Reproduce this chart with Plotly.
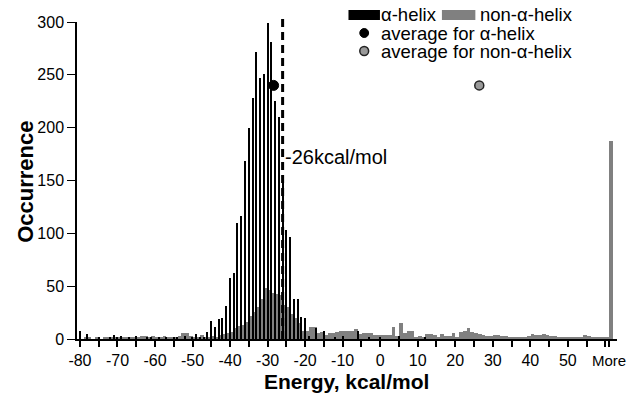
import plotly.graph_objects as go

# ---------------- data ----------------
bin_labels = [str(e) for e in range(-80, 61)] + ["More"]

alpha_counts = (
    [8, 0, 5, 0, 0, 2, 0, 0, 1, 4]            # -80..-71
    + [2, 3, 0, 2, 0, 3, 0, 0, 2, 1]          # -70..-61
    + [0, 2, 0, 2, 0, 1, 2, 0, 3, 0]          # -60..-51
    + [2, 5, 2, 1, 7, 17, 11, 19, 20, 31]     # -50..-41
    + [58, 62, 110, 116, 168, 200, 228, 272, 247, 251]   # -40..-31
    + [299, 281, 225, 210, 150, 103, 97, 38, 38, 21]     # -30..-21
    + [20, 3, 0, 10, 0, 8, 0, 0, 2, 0]        # -20..-11
    + [3, 0, 0, 0, 8, 0, 0, 2, 0, 0]          # -10..-1
    + [2, 0, 0, 0, 0, 3, 0, 0, 0, 0]          # 0..9
    + [0, 0, 1, 0, 0, 0, 0, 0, 0, 0]          # 10..19
    + [0, 0, 0, 0, 0, 0, 0, 0, 0, 0]          # 20..29
    + [0, 0, 0, 0, 0, 0, 0, 0, 0, 0]          # 30..39
    + [0, 0, 0, 0, 0, 0, 0, 0, 0, 0]          # 40..49
    + [0, 0, 0, 0, 0, 0, 0, 0, 0, 0]          # 50..59
    + [0]                                     # 60
    + [0]                                     # More
)

non_alpha_counts = (
    [0, 2, 1, 0, 1, 0, 1, 2, 1, 1]            # -80..-71
    + [2, 1, 2, 1, 2, 1, 3, 3, 2, 3]          # -70..-61
    + [2, 2, 3, 2, 2, 1, 3, 6, 6, 3]          # -60..-51
    + [2, 2, 4, 1, 2, 3, 2, 4, 5, 6]          # -50..-41
    + [7, 10, 12, 13, 16, 22, 26, 30, 38, 48]  # -40..-31
    + [46, 44, 43, 42, 32, 30, 24, 20, 15, 8]  # -30..-21
    + [8, 11, 11, 6, 7, 4, 6, 6, 7, 8]        # -20..-11
    + [8, 8, 8, 9, 5, 6, 6, 6, 4, 4]          # -10..-1
    + [4, 4, 4, 11, 3, 15, 6, 8, 8, 2]        # 0..9
    + [3, 2, 5, 5, 4, 2, 5, 3, 3, 6]          # 10..19
    + [2, 7, 8, 10, 7, 6, 5, 4, 3, 3]         # 20..29
    + [4, 4, 3, 3, 2, 2, 2, 2, 2, 3]          # 30..39
    + [5, 4, 4, 5, 4, 3, 3, 2, 2, 2]          # 40..49
    + [2, 1, 2, 2, 4, 3, 2, 2, 2, 2]          # 50..59
    + [1]                                     # 60
    + [187]                                   # More
)

x_tick_labels = ["-80", "-70", "-60", "-50", "-40", "-30", "-20", "-10",
                 "0", "10", "20", "30", "40", "50", "More"]
y_tick_values = [0, 50, 100, 150, 200, 250, 300]

threshold_energy = -26
threshold_label = "-26kcal/mol"
threshold_label_y = 172
avg_alpha_energy = -28.4
avg_non_alpha_energy = 26.4
avg_y = 240

# ---------------- helpers ----------------
first_bin = int(bin_labels[0])
positions = list(range(len(bin_labels)))


def pos_of(energy):
    return energy - first_bin


# ticks every 5 bins, labels every 10
tick_vals = [p for p in positions if p % 5 == 0 and bin_labels[p] != "More"]
tick_text = [bin_labels[p] if bin_labels[p] in x_tick_labels else "" for p in tick_vals]
more_pos = bin_labels.index("More")
tick_vals.append(more_pos)
tick_text.append("<span style='font-size:15px'>More</span>")

FONT = "Liberation Sans, Arial, sans-serif"
GRAY = "#808080"

W, H = 636, 399
PL, PW, PT, PH = 77, 549, 22, 317   # plot area in pixels

fig = go.Figure()

fig.add_trace(go.Bar(
    x=positions, y=non_alpha_counts, width=1.0, offset=0.05,
    marker=dict(color=GRAY, line=dict(width=0)), name="non-α-helix",
    showlegend=False,
))
fig.add_trace(go.Bar(
    x=positions, y=alpha_counts, width=0.32, offset=-0.16,
    marker=dict(color="black", line=dict(width=0)), name="α-helix",
    showlegend=False,
))
fig.add_trace(go.Scatter(
    x=[pos_of(avg_alpha_energy)], y=[avg_y], mode="markers",
    marker=dict(color="black", size=10, line=dict(color="black", width=1)),
    name="average for α-helix", showlegend=False,
))
fig.add_trace(go.Scatter(
    x=[pos_of(avg_non_alpha_energy)], y=[avg_y], mode="markers",
    marker=dict(color="#999999", size=9, line=dict(color="#222222", width=1.5)),
    name="average for non-α-helix", showlegend=False,
))

# threshold dashed line
fig.add_shape(type="line", xref="x", yref="paper",
              x0=pos_of(threshold_energy), x1=pos_of(threshold_energy), y0=0, y1=1.01,
              line=dict(color="black", width=3, dash="8px,5px"))
fig.add_annotation(x=pos_of(threshold_energy), y=threshold_label_y, xref="x", yref="y",
                   text=threshold_label, showarrow=False, xanchor="left", xshift=0,
                   font=dict(family=FONT, size=20, color="black"))


# ---------------- manual legend ----------------
def px(xp):
    return (xp - PL) / PW


def py(yp):
    return (PT + PH - yp) / PH


rows = [15, 33, 51]
key_c = 369
fig.add_shape(type="rect", xref="paper", yref="paper",
              x0=px(key_c - 16), x1=px(key_c + 16), y0=py(rows[0] + 5), y1=py(rows[0] - 5),
              fillcolor="black", line=dict(width=0))
fig.add_shape(type="rect", xref="paper", yref="paper",
              x0=px(448), x1=px(482), y0=py(rows[0] + 5), y1=py(rows[0] - 5),
              fillcolor=GRAY, line=dict(width=0))
fig.add_shape(type="circle", xref="paper", yref="paper",
              x0=px(key_c - 4.5), x1=px(key_c + 4.5), y0=py(rows[1] + 4.5), y1=py(rows[1] - 4.5),
              fillcolor="black", line=dict(color="black", width=1))
fig.add_shape(type="circle", xref="paper", yref="paper",
              x0=px(key_c - 4.5), x1=px(key_c + 4.5), y0=py(rows[2] + 4.5), y1=py(rows[2] - 4.5),
              fillcolor="#999999", line=dict(color="#222222", width=1.5))

legend_items = [("α-helix", 385, rows[0]), ("non-α-helix", 486, rows[0]),
                ("average for α-helix", 385, rows[1]),
                ("average for non-α-helix", 385, rows[2])]
for txt, xp_, yp_ in legend_items:
    fig.add_annotation(x=px(xp_), y=py(yp_), xref="paper", yref="paper", text=txt,
                       showarrow=False, xanchor="left", yanchor="middle",
                       borderpad=0,
                       font=dict(family=FONT, size=18.5, color="black"))

# axis titles
fig.add_annotation(x=px(351), y=py(381), xref="paper", yref="paper",
                   text="<b>Energy, kcal/mol</b>", showarrow=False,
                   xanchor="center", yanchor="middle",
                   font=dict(family=FONT, size=21, color="black"))
fig.add_annotation(x=px(24), y=py(182), xref="paper", yref="paper",
                   text="<b>Occurrence</b>", showarrow=False, textangle=-90,
                   xanchor="center", yanchor="middle",
                   font=dict(family=FONT, size=22, color="black"))

fig.update_layout(
    width=W, height=H,
    margin=dict(l=PL, r=W - PL - PW, t=PT, b=H - PT - PH),
    paper_bgcolor="white", plot_bgcolor="white",
    barmode="overlay", bargap=0,
    showlegend=False,
    font=dict(family=FONT, size=16, color="black"),
)
fig.update_xaxes(
    range=[-0.79, 143.1], tickmode="array", tickvals=tick_vals, ticktext=tick_text,
    ticks="outside", ticklen=6, tickwidth=1.5, tickcolor="black",
    showline=True, linecolor="black", linewidth=2, showgrid=False, zeroline=False,
    tickfont=dict(family=FONT, size=16, color="black"), ticklabeloverflow="allow",
)
fig.update_yaxes(
    range=[0, 300], tickmode="array", tickvals=y_tick_values,
    ticks="outside", ticklen=8, tickwidth=1, tickcolor="black",
    showline=True, linecolor="black", linewidth=1.5, showgrid=False, zeroline=False,
    tickfont=dict(family=FONT, size=16, color="black"),
)

# remove the browser's default page margin so the figure fills the window exactly
fig.write_html(
    "out.html",
    config={"displayModeBar": False},
    post_script="document.body.style.margin='0';document.body.style.overflow='hidden';",
)
